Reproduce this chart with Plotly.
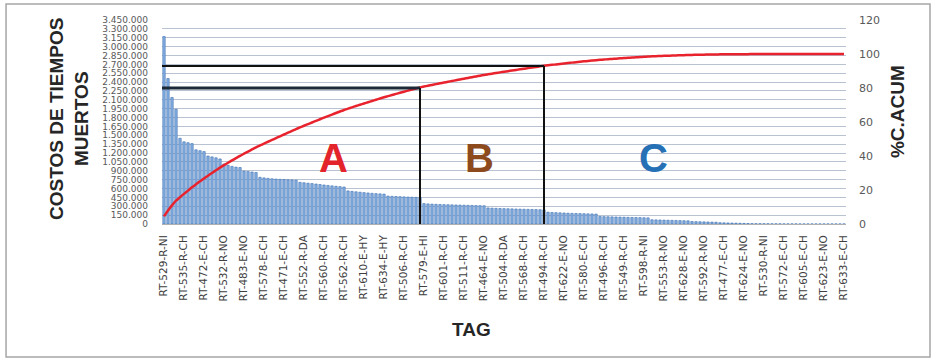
import numpy as np
import plotly.graph_objects as go

# Downtime cost per equipment tag, sorted from highest to lowest
costs = [
    3170000, 2460000, 2140000, 1940000, 1450000, 1390000, 1375000, 1360000,
    1255000, 1240000, 1225000, 1150000, 1135000, 1120000, 1100000, 1015000,
    995000, 975000, 962000, 955000, 895000, 888000, 880000, 872000,
    790000, 780000, 772000, 765000, 760000, 756000, 752000, 748000,
    745000, 742000, 705000, 698000, 690000, 684000, 676000, 668000,
    660000, 652000, 645000, 638000, 632000, 626000, 560000, 552000,
    545000, 538000, 531000, 525000, 519000, 514000, 510000, 506000,
    472000, 468000, 465000, 462000, 459000, 456000, 453000, 450000,
    447000, 345000, 340000, 336000, 333000, 330000, 328000, 326000,
    324000, 322000, 320000, 318000, 316000, 314000, 312000, 310000,
    308000, 272000, 268000, 265000, 262000, 260000, 258000, 256000,
    254000, 252000, 250000, 248000, 246000, 244000, 242000, 240000,
    200000, 195000, 192000, 189000, 186000, 183000, 180000, 178000,
    176000, 174000, 172000, 170000, 168000, 128000, 125000, 123000,
    121000, 119000, 117000, 115000, 113000, 111000, 110000, 108000,
    106000, 104000, 72000, 70000, 68000, 66000, 64000, 62000,
    60000, 58000, 56000, 54000, 42000, 40000, 38000, 36000,
    34000, 32000, 30000, 22000, 20000, 18000, 16000, 14000,
    12000, 10000, 8000, 6000, 5000, 5000, 4000, 4000,
    3000, 3000, 3000, 2000, 2000, 2000, 2000, 1000,
    1000, 1000, 1000, 1000, 1000, 1000, 1000, 1000,
    1000, 1000, 1000,
]

# Tags printed under the axis (every fifth equipment)
tag_labels = [
    "RT-529-R-NI", "RT-535-R-CH", "RT-472-E-CH", "RT-532-R-NO", "RT-483-E-NO",
    "RT-578-E-CH", "RT-471-E-CH", "RT-552-R-DA", "RT-560-R-CH", "RT-562-R-CH",
    "RT-610-E-HY", "RT-634-E-HY", "RT-506-R-CH", "RT-579-E-HI", "RT-601-R-CH",
    "RT-511-R-CH", "RT-464-E-NO", "RT-504-R-DA", "RT-568-R-CH", "RT-494-R-CH",
    "RT-622-E-NO", "RT-580-E-CH", "RT-496-R-CH", "RT-549-R-CH", "RT-598-R-NI",
    "RT-553-R-NO", "RT-628-E-NO", "RT-592-R-NO", "RT-477-E-CH", "RT-624-E-NO",
    "RT-530-R-NI", "RT-572-E-CH", "RT-605-E-CH", "RT-623-E-NO", "RT-633-E-CH",
]
label_step = 5

# ABC class limits on the cumulative percentage
limit_a = 80
limit_b = 93
class_names = ["A", "B", "C"]
class_colors = ["#e3242b", "#8c4a1d", "#2670b5"]
class_label_x = [42.3, 78.8, 122.3]
class_label_y = 39

n = len(costs)
idx = np.arange(n)
cum_pct = np.cumsum(costs) / np.sum(costs) * 100

cut_a = int(np.argmax(cum_pct >= limit_a))
cut_b = int(np.argmax(cum_pct >= limit_b))

fig = go.Figure()
fig.add_trace(go.Bar(
    x=idx, y=costs,
    marker=dict(color="#86b0e2", line=dict(color="#3a6db0", width=0.6)),
    yaxis="y", showlegend=False,
))
fig.add_trace(go.Scatter(
    x=idx, y=cum_pct, mode="lines",
    line=dict(color="#e8232d", width=2.5, shape="spline", smoothing=0.8),
    yaxis="y2", showlegend=False,
))

# Class boundary guides
shapes = []
for cut, lim, w, col in [(cut_a, limit_a, 3, "#1c2a38"), (cut_b, limit_b, 2, "#111111")]:
    shapes.append(dict(type="line", xref="x", yref="y2", x0=-0.5, x1=cut,
                       y0=lim, y1=lim, line=dict(color=col, width=w)))
    shapes.append(dict(type="line", xref="x", yref="y2", x0=cut, x1=cut,
                       y0=0, y1=lim, line=dict(color="#111111", width=2)))
# Chart frame
shapes.append(dict(type="rect", xref="paper", yref="paper",
                   x0=-0.228, x1=1.1228, y0=-0.652, y1=1.078,
                   line=dict(color="#a6a6a6", width=1.5), layer="below"))

annotations = []
for name, col, xv in zip(class_names, class_colors, class_label_x):
    annotations.append(dict(x=xv, y=class_label_y, xref="x", yref="y2",
                            text="<b>" + name + "</b>", showarrow=False,
                            font=dict(family="Liberation Sans", size=40, color=col)))
title_font = dict(family="Liberation Sans", size=19, color="#262626")
annotations.append(dict(x=-0.1725, y=0.515, xref="paper", yref="paper",
                        text="<b>COSTOS DE TIEMPOS<br>MUERTOS</b>", textangle=-90,
                        showarrow=False, font=title_font))
annotations.append(dict(x=1.0936, y=0.3137, xref="paper", yref="paper",
                        text="<b>%C.ACUM</b>", textangle=-90,
                        showarrow=False, font=title_font))
annotations.append(dict(x=0.4518, y=-0.578, xref="paper", yref="paper",
                        text="<b>TAG</b>", showarrow=False, font=title_font))

fig.update_layout(
    width=935, height=360,
    margin=dict(l=162, r=89, t=20, b=136, pad=0),
    paper_bgcolor="white", plot_bgcolor="white",
    separators=",.",
    bargap=0.4,
    shapes=shapes, annotations=annotations,
    xaxis=dict(
        range=[-0.5, n - 0.5],
        tickmode="array",
        tickvals=list(range(0, n, label_step))[:len(tag_labels)],
        ticktext=tag_labels,
        tickangle=-90,
        tickfont=dict(family="DejaVu Sans", size=10.5, color="#404040"),
        ticklabelstandoff=6,
        showgrid=False, zeroline=False,
        showline=True, linecolor="#b0b0b0", linewidth=1,
    ),
    yaxis=dict(
        range=[0, 3450000], dtick=150000, tickformat=",d",
        tickfont=dict(family="DejaVu Sans", size=9, color="#595959"),
        ticklabelstandoff=13,
        showgrid=True, gridcolor="#b9c2d0", gridwidth=1,
        zeroline=False, showline=False,
    ),
    yaxis2=dict(
        range=[0, 120], dtick=20, overlaying="y", side="right",
        tickfont=dict(family="DejaVu Sans", size=11, color="#595959"),
        ticklabelstandoff=12,
        showgrid=False, zeroline=False, showline=False,
    ),
)

fig.write_html("out.html")
